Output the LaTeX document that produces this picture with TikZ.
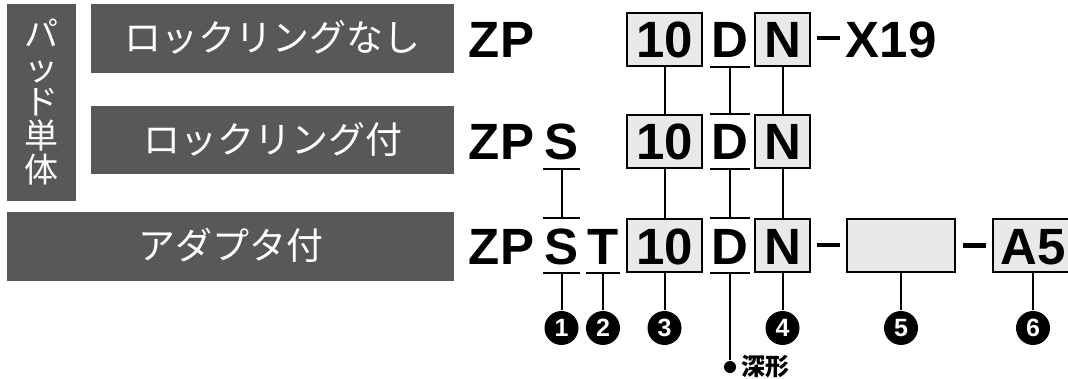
\documentclass[tikz,border=0pt]{standalone}
\usepackage{fontspec}
\setmainfont{Liberation Sans}
\newfontfamily\jpfont{Noto Sans CJK JP}
\usetikzlibrary{positioning}
\definecolor{tag}{HTML}{5A5758}
\definecolor{fieldgray}{HTML}{E8E9E8}

\begin{document}
\begin{tikzpicture}[x=1pt,y=-1pt,line width=2pt,
  tagbox/.style={fill=tag,text=white,inner sep=0,font=\jpfont\fontsize{37}{34}\selectfont,text height=32pt,text depth=5pt},
  codetext/.style={inner sep=0,font=\bfseries\fontsize{51}{51}\selectfont,text height=37pt,text depth=0pt,minimum height=53pt},
  field/.style={codetext,draw,fill=fieldgray},
  dashbar/.style={fill,inner sep=0,minimum width=23pt,minimum height=4.5pt},
  marknum/.style={circle,fill,inner sep=0,minimum size=34pt,text=white,font=\bfseries\fontsize{25}{25}\selectfont},
  dot/.style={circle,fill,inner sep=0,minimum size=12pt}]
 \useasboundingbox (0,0) rectangle (1068,379);
 % labels on the left
 \fill[tag] (7,4) rectangle (76,201);
 \node[text=white,inner sep=0,align=center,font=\jpfont\fontsize{34}{34}\selectfont] (single) at (41.5,102.5) {パ\\ッ\\ド\\単\\体};
 \path 	(272.5,38.5) 	node[tagbox,minimum width=363pt,minimum height=69pt] (nolock) {ロックリングなし}
 	(272.5,140) 	node[tagbox,minimum width=363pt,minimum height=68pt] (lock) {ロックリング付}
 	(230.5,246.5) 	node[tagbox,minimum width=447pt,minimum height=69pt] (adapter) {アダプタ付};
 % row 1
 \path 	(501.5,39.5) 	node[codetext] (zpa) {ZP}
 	(664.5,39.5) 	node[field,minimum width=75pt] (dia) {10}
 	(730,39.5) 	node[codetext,minimum width=38pt] (da) {D}
 	(782.5,39.5) 	node[field,minimum width=55pt] (na) {N}
 	(828.5,38) 	node[dashbar] (dsa) {}
 	(891,39.5) 	node[codetext] (xa) {X19};
 % row 2
 \path 	(501.5,141.5) 	node[codetext] (zpb) {ZP}
 	(561.5,141.5) 	node[codetext,minimum width=35pt] (sb) {S}
 	(664.5,141.5) 	node[field,minimum width=75pt] (dib) {10}
 	(730,141.5) 	node[codetext,minimum width=38pt] (db) {D}
 	(782.5,141.5) 	node[field,minimum width=55pt] (nb) {N};
 % row 3
 \path 	(501.5,246) 	node[codetext] (zpc) {ZP}
 	(561.5,246) 	node[codetext,minimum width=35pt] (sc) {S}
 	(603,246) 	node[codetext,minimum width=32pt] (tc) {T}
 	(664.5,246) 	node[field,minimum width=75pt] (dic) {10}
 	(730,246) 	node[codetext,minimum width=38pt] (dc) {D}
 	(782.5,246) 	node[field,minimum width=55pt] (nc) {N}
 	(828.5,245) 	node[dashbar] (dsb) {}
 	(901,246) 	node[field,minimum width=108pt] (vc) {}
 	(974.5,245.5) 	node[dashbar] (dsc) {}
 	(1033,246) 	node[field,minimum width=80pt] (ac) {A5};
 % under and over bars
 \draw (da.south west) -- (da.south east);
 \draw (db.north west) -- (db.north east) (db.south west) -- (db.south east);
 \draw (dc.north west) -- (dc.north east) (dc.south west) -- (dc.south east);
 \draw (sb.south west) -- (sb.south east);
 \draw (sc.north west) -- (sc.north east) (sc.south west) -- (sc.south east);
 \draw (tc.south west) -- (tc.south east);
 % numbered marks
 \path 	(561.5,328) 	node[marknum] (m1) {1}
 	(603,328) 	node[marknum] (m2) {2}
 	(664.5,328) 	node[marknum] (m3) {3}
 	(782.5,328) 	node[marknum] (m4) {4}
 	(901,328) 	node[marknum] (m5) {5}
 	(1033,328) 	node[marknum] (m6) {6}
 	(730,367) 	node[dot] (deep) {};
 \node[right=3pt of deep,inner sep=0,font=\jpfont\bfseries\fontsize{24}{24}\selectfont] (deeptext) {深形};
 \draw (dia) -- (dib);
 \draw (dib) -- (dic);
 \draw (da) -- (db);
 \draw (db) -- (dc);
 \draw (na) -- (nb);
 \draw (nb) -- (nc);
 \draw (sb) -- (sc);
 \draw (sc) -- (m1);
 \draw (tc) -- (m2);
 \draw (dic) -- (m3);
 \draw (nc) -- (m4);
 \draw (vc) -- (m5);
 \draw (ac) -- (m6);
 \draw (dc) -- (deep);
\end{tikzpicture}
\end{document}
